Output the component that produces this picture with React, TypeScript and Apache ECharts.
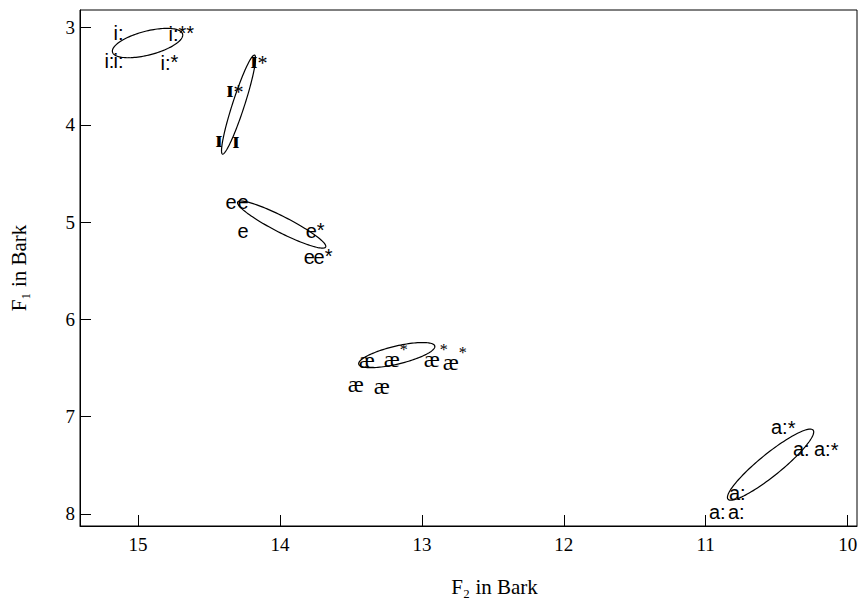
import React, { useEffect, useRef } from "react";
import * as echarts from "echarts";

// Axis extents (Bark)
const F2_RANGE = [9.934, 15.409];
const F1_RANGE = [2.818, 8.126];

// Vowel tokens: [F2, F1, vowel, stars]
const iVowels: [number, number, string, string][] = [
  [15.173, 3.055, "i:", ""],
  [14.785, 3.065, "i:", "**"],
  [15.237, 3.343, "i:", ""],
  [15.173, 3.343, "i:", ""],
  [14.842, 3.364, "i:", "*"],
];
const smallIVowels: [number, number, string, string][] = [
  [14.207, 3.336, "ɪ", "*"],
  [14.376, 3.634, "ɪ", "*"],
  [14.454, 4.148, "ɪ", ""],
  [14.334, 4.159, "ɪ", ""],
];
const eVowels: [number, number, string, string][] = [
  [14.383, 4.79, "e", ""],
  [14.299, 4.79, "e", ""],
  [14.299, 5.094, "e", ""],
  [13.819, 5.094, "e", "*"],
  [13.833, 5.354, "e", ""],
  [13.763, 5.354, "e", "*"],
];
const aeVowels: [number, number, string, string][] = [
  [13.445, 6.414, "æ", ""],
  [13.269, 6.404, "æ", "*"],
  [12.987, 6.404, "æ", "*"],
  [12.853, 6.435, "æ", "*"],
  [13.523, 6.661, "æ", ""],
  [13.34, 6.682, "æ", ""],
];
const aVowels: [number, number, string, string][] = [
  [10.54, 7.111, "a:", "*"],
  [10.385, 7.337, "a:", ""],
  [10.237, 7.337, "a:", "*"],
  [10.836, 7.784, "a:", ""],
  [10.977, 7.98, "a:", ""],
  [10.843, 7.98, "a:", ""],
];

// Ellipses: [centerF2, centerF1, semiAxis1 dF2, dF1, semiAxis2 dF2, dF1]
const ellipses: number[][] = [
  [14.933, 3.158, -0.247, -0.093, -0.021, 0.119],
  [14.292, 3.791, -0.113, -0.509, -0.04, 0.019],
  [13.988, 5.025, -0.31, 0.231, 0.0257, 0.0733],
  [13.177, 6.368, -0.268, -0.093, -0.0146, 0.09],
  [10.543, 7.495, -0.3, -0.355, -0.0489, 0.0879],
];

const SANS = "'Liberation Sans', Arial, sans-serif";
const SERIF = "'Liberation Serif', 'DejaVu Serif', 'Times New Roman', serif";

export default function App() {
  const ref = useRef<HTMLDivElement>(null);
  useEffect(() => {
    const chart = echarts.init(ref.current!, null, { renderer: "svg" });
    const ctx = document.createElement("canvas").getContext("2d")!;
    const measure = (font: string, s: string) => {
      ctx.font = font;
      return ctx.measureText(s).width;
    };
    const labelSeries = (
      data: [number, number, string, string][],
      font: string,
      starFont: string,
      starDx: number,
      starDy: number
    ) => ({
      type: "custom",
      coordinateSystem: "cartesian2d",
      data: data.map((d) => [d[0], d[1]]),
      encode: { x: 0, y: 1 },
      silent: true,
      z: 3,
      renderItem: (params: any, api: any) => {
        const d = data[params.dataIndex];
        const p = api.coord([api.value(0), api.value(1)]);
        const children: any[] = [
          {
            type: "text",
            x: p[0],
            y: p[1],
            style: { text: d[2], font, fill: "#000", textAlign: "left", textVerticalAlign: "middle" },
          },
        ];
        if (d[3]) {
          children.push({
            type: "text",
            x: p[0] + measure(font, d[2]) + starDx,
            y: p[1] + starDy,
            style: { text: d[3], font: starFont, fill: "#000", textAlign: "left", textVerticalAlign: "middle" },
          });
        }
        return { type: "group", children };
      },
    });

    const ellipseSeries = {
      type: "custom",
      coordinateSystem: "cartesian2d",
      data: ellipses.map((e) => [e[0], e[1]]),
      encode: { x: 0, y: 1 },
      silent: true,
      z: 2,
      renderItem: (params: any, api: any) => {
        const e = ellipses[params.dataIndex];
        const pts: number[][] = [];
        const n = 120;
        for (let k = 0; k < n; k++) {
          const t = (k / n) * Math.PI * 2;
          pts.push(
            api.coord([
              e[0] + e[2] * Math.cos(t) + e[4] * Math.sin(t),
              e[1] + e[3] * Math.cos(t) + e[5] * Math.sin(t),
            ])
          );
        }
        return {
          type: "polygon",
          shape: { points: pts },
          style: { fill: "none", stroke: "#000", lineWidth: 1.2 },
        };
      },
    };

    const axisCommon = {
      type: "value",
      inverse: true,
      minInterval: 1,
      maxInterval: 1,
      splitLine: { show: false },
      axisLine: { show: true, lineStyle: { color: "#000", width: 1 } },
      axisTick: { show: true, inside: true, length: 11, lineStyle: { color: "#000", width: 1 } },
      nameLocation: "middle",
    };

    chart.setOption({
      animation: false,
      backgroundColor: "#fff",
      grid: {
        left: 80,
        right: 2,
        top: 10,
        bottom: 74,
        show: true,
        borderColor: "#000",
        borderWidth: 1,
        containLabel: false,
        outerBoundsMode: "none",
      },
      xAxis: {
        ...axisCommon,
        min: F2_RANGE[0],
        max: F2_RANGE[1],
        axisLabel: {
          color: "#000",
          fontFamily: SERIF,
          fontSize: 19,
          margin: 9,
          showMinLabel: false,
          showMaxLabel: false,
        },
        name: "F₂ in Bark",
        nameGap: 50,
        nameTextStyle: { color: "#000", fontFamily: SERIF, fontSize: 21, padding: [0, 0, 0, 52] },
      },
      yAxis: {
        ...axisCommon,
        min: F1_RANGE[0],
        max: F1_RANGE[1],
        axisLabel: {
          color: "#000",
          fontFamily: SERIF,
          fontSize: 19,
          margin: 5,
          showMinLabel: false,
          showMaxLabel: false,
        },
        name: "F₁ in Bark",
        nameRotate: 90,
        nameGap: 51,
        nameTextStyle: { color: "#000", fontFamily: SERIF, fontSize: 21 },
      },
      series: [
        ellipseSeries,
        labelSeries(iVowels, `20px ${SANS}`, `20px ${SANS}`, 0, -1),
        labelSeries(smallIVowels, `bold 24px ${SERIF}`, `20px ${SERIF}`, 0, 3),
        labelSeries(eVowels, `20px ${SANS}`, `20px ${SANS}`, 0, -1),
        labelSeries(aeVowels, `24px ${SERIF}`, `16px ${SERIF}`, 0, -9),
        labelSeries(aVowels, `20px ${SANS}`, `20px ${SANS}`, 0, 1),
      ],
    });
    return () => chart.dispose();
  }, []);
  return <div ref={ref} style={{ position: "fixed", left: 0, top: 0, width: 859, height: 600 }} />;
}
